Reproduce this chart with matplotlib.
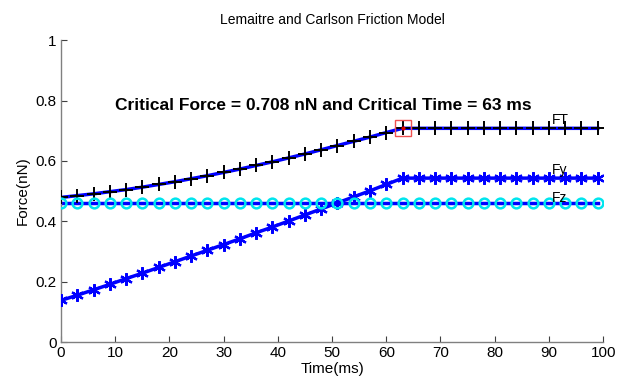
import matplotlib
matplotlib.use("Agg")
import matplotlib.pyplot as plt

plt.rcParams['font.family'] = ['Liberation Sans Narrow', 'Liberation Sans', 'DejaVu Sans']

time_ms = [0, 3, 6, 9, 12, 15, 18, 21, 24, 27, 30, 33, 36, 39, 42, 45, 48, 51,
           54, 57, 60, 63, 66, 69, 72, 75, 78, 81, 84, 87, 90, 93, 96, 99]
FT = [0.479, 0.485, 0.491, 0.498, 0.505, 0.513, 0.522, 0.531, 0.541, 0.551,
      0.562, 0.573, 0.585, 0.597, 0.610, 0.623, 0.637, 0.651, 0.665, 0.679,
      0.694, 0.708, 0.708, 0.708, 0.708, 0.708, 0.708, 0.708, 0.708, 0.708,
      0.708, 0.708, 0.708, 0.708]
Fy = [0.138, 0.155, 0.173, 0.191, 0.210, 0.228, 0.247, 0.266, 0.285, 0.304,
      0.323, 0.342, 0.362, 0.381, 0.401, 0.421, 0.441, 0.461, 0.481, 0.501,
      0.522, 0.543, 0.543, 0.543, 0.543, 0.543, 0.543, 0.543, 0.543, 0.543,
      0.543, 0.543, 0.543, 0.543]
Fz = [0.459] * 34
crit_time = 63
crit_force = 0.708
xticks = [0, 10, 20, 30, 40, 50, 60, 70, 80, 90, 100]
yticks = [0, 0.2, 0.4, 0.6, 0.8, 1]
ytick_labels = ['0', '0.2', '0.4', '0.6', '0.8', '1']

fig = plt.figure(figsize=(6.25, 3.9), dpi=100)
ax = fig.add_axes([0.0976, 0.123, 0.8674, 0.774])

blue = '#0000ff'
ax.plot(time_ms, FT, color=blue, lw=2.5, zorder=2)
ax.plot(time_ms, FT, linestyle='none', marker='+', color='black', ms=10, mew=1.4, zorder=3)
ax.plot(time_ms, Fy, color=blue, lw=2.5, zorder=2)
ax.plot(time_ms, Fy, linestyle='none', marker=(6, 2, 0), color=blue, ms=9, mew=1.6, zorder=3)
ax.plot(time_ms, Fz, color=blue, lw=2.5, zorder=2)
ax.plot(time_ms, Fz, linestyle='none', marker='o', mfc='none', mec='#00e5ee', ms=7, mew=1.8, zorder=3)

ax.plot([crit_time], [crit_force], marker='s', mfc='none', mec='#f05050', ms=12, mew=1.0, zorder=4)
ax.plot([crit_time], [crit_force], marker='.', color='#e00000', ms=4, zorder=5)

ax.text(10, 0.783, 'Critical Force = %.3f nN and Critical Time = %d ms' % (crit_force, crit_time),
        fontsize=12.5, fontweight='bold', family=['Liberation Sans', 'DejaVu Sans'],
        ha='left', va='center')
ax.text(90.5, 0.712, 'FT', fontsize=10, ha='left', va='bottom')
ax.text(90.5, 0.547, 'Fy', fontsize=10, ha='left', va='bottom')
ax.text(90.5, 0.455, 'Fz', fontsize=10, ha='left', va='bottom')

ax.set_xlim(0, 100)
ax.set_ylim(0, 1)
ax.set_xticks(xticks)
ax.set_yticks(yticks)
ax.set_yticklabels(ytick_labels)
ax.tick_params(direction='in', length=4, width=0.8, color='#404040', labelsize=11, pad=3)
for s in ['top', 'right']:
    ax.spines[s].set_visible(False)
for s in ['left', 'bottom']:
    ax.spines[s].set_color('#808080')
    ax.spines[s].set_linewidth(1.0)

ax.set_title('Lemaitre and Carlson Friction Model', fontsize=10, pad=12,
             family=['Liberation Sans', 'DejaVu Sans'])
ax.set_xlabel('Time(ms)', fontsize=11, labelpad=1)
ax.set_ylabel('Force(nN)', fontsize=11, labelpad=4)

fig.savefig('out.png', dpi=100)
